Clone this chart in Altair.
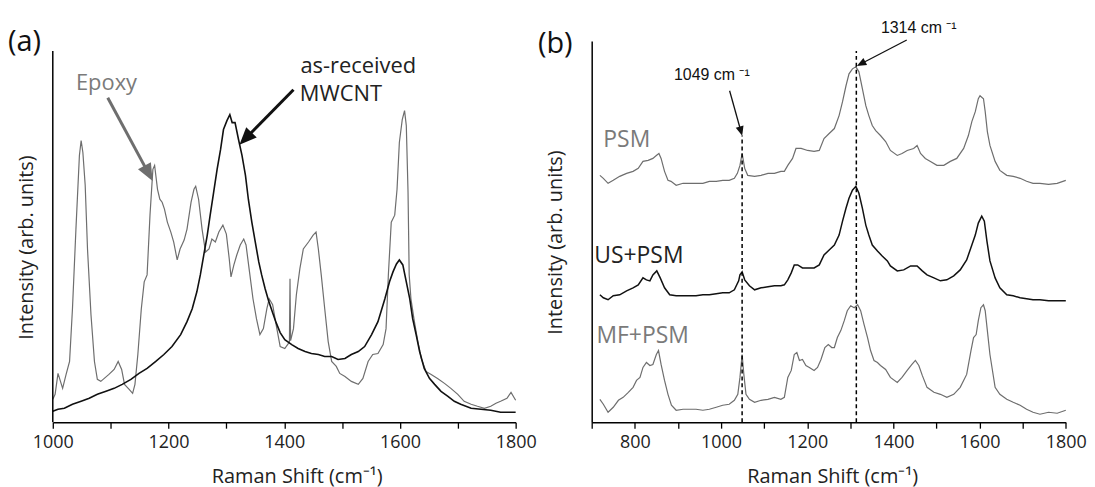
import altair as alt
import pandas as pd

FONT = "Open Sans"
GRAY = "#6e6e6e"
BLACK = "#111111"

# ---------------- Panel (a) data ----------------
epoxy_wn = [1000, 1004, 1009, 1017, 1023, 1029, 1034, 1040, 1046, 1049, 1052, 1056, 1060, 1066,
            1072, 1077, 1083, 1089, 1097, 1106, 1113, 1119, 1124, 1132, 1138, 1142, 1147, 1153,
            1158, 1163, 1168, 1173, 1176, 1181, 1185, 1189, 1193, 1198, 1204, 1209, 1215, 1220,
            1227, 1232, 1239, 1244, 1247, 1252, 1258, 1264, 1270, 1275, 1281, 1287, 1294, 1300,
            1305, 1308, 1313, 1318, 1324, 1330, 1334, 1340, 1346, 1352, 1358, 1364, 1370, 1374,
            1380, 1386, 1393, 1401, 1407, 1409, 1410, 1411, 1416, 1421, 1427, 1433, 1442, 1450,
            1455, 1459, 1464, 1470, 1476, 1482, 1490, 1496, 1505, 1516, 1528, 1536, 1545, 1553,
            1562, 1571, 1576, 1580, 1585, 1591, 1595, 1599, 1604, 1608, 1611, 1614, 1616, 1619,
            1625, 1631, 1637, 1645, 1654, 1665, 1677, 1688, 1700, 1711, 1723, 1734, 1746, 1757,
            1766, 1774, 1785, 1792, 1800]
epoxy_int = [23, 28, 49, 34, 48, 61, 114, 194, 268, 283, 271, 238, 174, 108,
             61, 43, 41, 44, 48, 53, 61, 53, 38, 33, 29, 38, 68, 114,
             141, 148, 208, 254, 258, 234, 224, 221, 214, 201, 191, 181, 163, 174,
             183, 194, 221, 234, 237, 224, 194, 171, 174, 184, 181, 191, 198, 189,
             164, 146, 158, 168, 178, 184, 178, 151, 124, 104, 88, 94, 114, 124,
             118, 98, 76, 74, 79, 81, 144, 82, 94, 128, 154, 174, 181, 188,
             191, 174, 148, 114, 81, 61, 56, 49, 46, 41, 38, 44, 61, 68,
             69, 78, 94, 148, 201, 208, 234, 281, 304, 313, 298, 231, 148, 124,
             101, 81, 64, 51, 48, 44, 39, 34, 28, 21, 18, 16, 14, 16,
             19, 21, 24, 30, 22]

mwcnt_wn = [1000, 1009, 1020, 1034, 1049, 1063, 1077, 1092, 1106, 1120, 1135, 1149, 1163, 1178,
            1192, 1206, 1221, 1232, 1241, 1249, 1255, 1261, 1267, 1272, 1278, 1284, 1290, 1295,
            1301, 1306, 1310, 1315, 1321, 1327, 1333, 1338, 1344, 1350, 1356, 1361, 1367, 1373,
            1380, 1386, 1393, 1401, 1413, 1424, 1436, 1447, 1459, 1470, 1482, 1493, 1505, 1516,
            1528, 1539, 1551, 1562, 1574, 1582, 1588, 1594, 1599, 1605, 1611, 1617, 1622, 1628,
            1634, 1642, 1651, 1660, 1671, 1683, 1694, 1705, 1723, 1740, 1757, 1774, 1800]
mwcnt_int = [11, 13, 14, 18, 21, 24, 28, 31, 34, 38, 43, 49, 54, 61,
             68, 76, 88, 101, 114, 131, 148, 168, 188, 208, 231, 254, 274, 294,
             303, 309, 301, 301, 284, 268, 248, 224, 201, 181, 161, 148, 134, 122,
             110, 100, 90, 83, 78, 74, 71, 69, 68, 66, 66, 63, 64, 68,
             71, 76, 88, 101, 124, 141, 151, 159, 163, 158, 141, 124, 104, 88,
             71, 54, 44, 38, 31, 26, 21, 18, 14, 13, 12, 10, 10]

# ---------------- Panel (b) data ----------------
psm_wn = [719, 727, 738, 750, 765, 781, 796, 808, 819, 831, 842, 850, 856, 861, 869, 877, 884,
          896, 912, 927, 942, 958, 973, 989, 1004, 1019, 1031, 1038, 1044, 1049, 1055, 1062,
          1078, 1093, 1109, 1124, 1139, 1147, 1155, 1166, 1174, 1186, 1201, 1216, 1228, 1239,
          1251, 1263, 1274, 1282, 1290, 1297, 1305, 1313, 1320, 1328, 1336, 1343, 1351, 1359,
          1370, 1382, 1393, 1409, 1420, 1432, 1447, 1455, 1463, 1474, 1486, 1501, 1517, 1532,
          1547, 1563, 1574, 1582, 1590, 1597, 1601, 1609, 1613, 1618, 1624, 1636, 1647, 1663,
          1678, 1694, 1709, 1724, 1740, 1760, 1780, 1800]
psm_int = [248, 245, 240, 243, 247, 250, 252, 255, 262, 263, 265, 268, 270, 265, 252, 243, 242,
           238, 240, 240, 240, 240, 242, 242, 243, 243, 245, 250, 258, 270, 255, 248,
           247, 248, 250, 250, 252, 252, 258, 265, 275, 275, 273, 272, 273, 285,
           290, 295, 308, 322, 338, 350, 355, 357, 352, 335, 318, 308, 298, 293,
           288, 282, 273, 268, 270, 273, 275, 278, 270, 265, 262, 258, 258, 262,
           265, 275, 288, 302, 312, 325, 328, 325, 312, 292, 278, 262, 253, 248,
           247, 245, 242, 240, 240, 239, 240, 243]

us_wn = [719, 727, 738, 750, 765, 781, 796, 808, 819, 827, 835, 842, 851, 859, 869, 881, 896,
         912, 927, 942, 958, 973, 989, 1004, 1019, 1031, 1041, 1044, 1049, 1055, 1066, 1078,
         1093, 1109, 1124, 1139, 1147, 1155, 1163, 1170, 1178, 1189, 1201, 1216, 1228, 1239,
         1251, 1263, 1274, 1282, 1290, 1297, 1305, 1313, 1320, 1328, 1336, 1343, 1351, 1363,
         1374, 1386, 1393, 1409, 1424, 1440, 1455, 1467, 1478, 1494, 1509, 1524, 1540, 1555,
         1570, 1582, 1590, 1597, 1605, 1611, 1617, 1624, 1636, 1647, 1663, 1678, 1694, 1709,
         1724, 1740, 1760, 1780, 1800]
us_int = [128, 125, 123, 127, 128, 132, 135, 138, 145, 143, 142, 148, 152, 145, 135, 128, 127,
          127, 127, 127, 128, 128, 129, 130, 130, 133, 142, 148, 151, 143, 137, 133,
          135, 136, 137, 137, 138, 143, 150, 158, 158, 155, 155, 155, 158, 168,
          173, 178, 188, 202, 215, 225, 233, 237, 230, 215, 198, 188, 178, 172,
          167, 162, 157, 152, 153, 157, 157, 152, 148, 145, 142, 143, 147, 153,
          163, 178, 188, 200, 207, 202, 182, 162, 145, 135, 128, 127, 125, 124,
          123, 123, 122, 122, 122]

mf_wn = [719, 727, 738, 750, 762, 773, 785, 796, 804, 812, 819, 827, 835, 842, 850, 855, 861,
         869, 877, 885, 896, 912, 927, 942, 958, 973, 989, 1004, 1019, 1031, 1039, 1044, 1049,
         1053, 1058, 1066, 1078, 1093, 1109, 1124, 1139, 1147, 1155, 1163, 1170, 1176, 1182,
         1189, 1197, 1205, 1216, 1224, 1232, 1241, 1249, 1257, 1263, 1270, 1278, 1286, 1293,
         1301, 1309, 1317, 1324, 1332, 1340, 1347, 1355, 1363, 1370, 1382, 1393, 1409, 1420,
         1432, 1443, 1451, 1459, 1467, 1478, 1494, 1509, 1524, 1540, 1555, 1570, 1580, 1586,
         1592, 1597, 1603, 1609, 1613, 1618, 1624, 1636, 1647, 1663, 1678, 1694, 1709, 1724,
         1740, 1760, 1780, 1800]
mf_int = [23, 18, 10, 15, 22, 25, 30, 35, 42, 45, 55, 60, 57, 58, 68, 72, 58,
          42, 28, 17, 12, 13, 13, 13, 12, 13, 15, 17, 18, 22, 28, 45, 68,
          48, 28, 23, 20, 22, 23, 25, 23, 25, 45, 52, 68, 70, 62,
          63, 57, 55, 52, 55, 63, 75, 78, 75, 75, 85, 92, 102, 112,
          117, 115, 118, 112, 98, 85, 72, 62, 60, 57, 53, 45, 40, 45,
          52, 58, 62, 57, 47, 35, 30, 28, 25, 28, 35, 48, 72, 85,
          88, 102, 115, 118, 112, 92, 68, 35, 28, 23, 20, 17, 13, 10,
          8, 10, 9, 12]

# ---------------- Annotations ----------------
panel_labels = ["(a)", "(b)"]

a_gray_text = ["Epoxy"]
a_gray_text_wn = [1040]
a_gray_text_int = [334]
a_dark_text = ["as-received", "MWCNT"]
a_dark_text_wn = [1428, 1427]
a_dark_text_int = [351, 323]

# arrows: start (wn, int) -> head centre (wn, int), head angle (deg)
a_arrow_wn = [1095, 1416]
a_arrow_int = [326, 334]
a_arrow_wn2 = [1165.5, 1333]
a_arrow_int2 = [250, 285]
a_arrow_angle = [151.5, 224.3]
a_arrow_color = [GRAY, BLACK]

b_gray_text = ["PSM", "MF+PSM"]
b_gray_text_wn = [727, 711]
b_gray_text_int = [276.6, 79.6]
b_dark_text = ["US+PSM"]
b_dark_text_wn = [706]
b_dark_text_int = [159.6]
b_peak_text = ["1049 cm \u207b\u00b9", "1314 cm \u207b\u00b9"]
b_peak_text_wn = [891, 1371]
b_peak_text_int = [344, 391]

b_peak_wn = [1049, 1314]
b_peak_top = [288, 373]

b_arrow_wn = [1020, 1431]
b_arrow_int = [333, 384]
b_arrow_wn2 = [1046.2, 1325]
b_arrow_int2 = [292.3, 360.1]
b_arrow_angle = [164.4, 242.2]

HEAD = "M0,-1L-0.85,1L0.85,1Z"

# ---------------- Helpers ----------------
X_TITLE = "Raman Shift (cm\u207b\u00b9)"
Y_TITLE = "Intensity (arb. units)"


def x_axis(values, title_x):
    return alt.Axis(
        values=values,
        labelExpr="datum.value % 200 === 0 ? format(datum.value, 'd') : ''",
        title=X_TITLE, titleFont=FONT, titleFontSize=20, titleFontWeight="normal",
        titleColor="#222222", titleX=title_x, titleY=60.5, titleAlign="center",
        titleBaseline="alphabetic",
        labelFont=FONT, labelFontSize=18, labelColor="#222222", labelPadding=5,
        labelFlush=False, labelOverlap=False,
        tickSize=6, tickColor="#000000", tickWidth=1.3,
        domainColor="#000000", domainWidth=1.5, grid=False,
    )


def y_axis(title_x, title_y, domain):
    return alt.Axis(
        title=Y_TITLE, titleFont=FONT, titleFontSize=20, titleFontWeight="normal",
        titleColor="#222222", titleX=title_x, titleY=title_y, titleAngle=-90,
        titleAlign="center", titleBaseline="middle",
        labels=False, ticks=False, domain=domain, domainColor="#000000",
        domainWidth=1.5, grid=False,
    )


def line(wn, inten, color, width, xs, ys):
    df = pd.DataFrame({"wn": wn, "I": inten})
    return alt.Chart(df).mark_line(color=color, strokeWidth=width).encode(
        x=xs, y=ys
    )


def texts(labels, wn, inten, color, size, font=FONT):
    df = pd.DataFrame({"label": labels, "wn": wn, "I": inten})
    return alt.Chart(df).mark_text(
        align="left", baseline="alphabetic", font=font, fontSize=size, color=color
    ).encode(x="wn:Q", y="I:Q", text="label:N")


def arrows(wn, inten, wn2, inten2, angles, colors, width, head_size):
    df = pd.DataFrame({"wn": wn, "I": inten, "wn2": wn2, "I2": inten2,
                       "ang": angles, "col": colors})
    shafts = alt.Chart(df).mark_rule(strokeWidth=width).encode(
        x="wn:Q", y="I:Q", x2="wn2:Q", y2="I2:Q",
        color=alt.Color("col:N", scale=None),
    )
    heads = alt.Chart(df).mark_point(shape=HEAD, filled=True, opacity=1,
                                     size=head_size, strokeWidth=0).encode(
        x="wn2:Q", y="I2:Q",
        angle=alt.Angle("ang:Q", scale=None),
        color=alt.Color("col:N", scale=None),
    )
    return shafts + heads


def panel_label(label, dx, dy):
    df = pd.DataFrame({"label": [label]})
    return alt.Chart(df).mark_text(
        align="left", baseline="alphabetic", font=FONT, fontSize=29, color="#111111"
    ).encode(x=alt.value(dx), y=alt.value(dy), text="label:N")


# ---------------- Panel (a) ----------------
xa = alt.X("wn:Q", scale=alt.Scale(domain=[1000, 1800], nice=False, zero=False),
           axis=x_axis(list(range(1000, 1801, 100)), 245))
ya = alt.Y("I:Q", scale=alt.Scale(domain=[0, 383], nice=False, zero=False),
           axis=y_axis(-26.5, 207, False))

a_yline = alt.Chart(pd.DataFrame({"wn": [1000], "I": [0], "I2": [373]})).mark_rule(
    color="#000000", strokeWidth=1.5).encode(x="wn:Q", y="I:Q", y2="I2:Q")

panel_a = alt.layer(
    line(epoxy_wn, epoxy_int, GRAY, 1.2, xa, ya),
    line(mwcnt_wn, mwcnt_int, BLACK, 1.6, "wn:Q", "I:Q"),
    a_yline,
    texts(a_gray_text, a_gray_text_wn, a_gray_text_int, "#7a7a7a", 22),
    texts(a_dark_text, a_dark_text_wn, a_dark_text_int, "#222222", 22),
    arrows(a_arrow_wn, a_arrow_int, a_arrow_wn2, a_arrow_int2, a_arrow_angle,
           a_arrow_color, 3, 300),
    panel_label(panel_labels[0], -45, 10),
).properties(width=465, height=383)

# ---------------- Panel (b) ----------------
xb = alt.X("wn:Q", scale=alt.Scale(domain=[700, 1800], nice=False, zero=False),
           axis=x_axis(list(range(700, 1801, 100)), 241.6))
yb = alt.Y("I:Q", scale=alt.Scale(domain=[0, 383], nice=False, zero=False),
           axis=y_axis(-36.4, 202, True))

dash_df = pd.DataFrame({"wn": b_peak_wn, "I": [0, 0], "I2": b_peak_top})
dashes = alt.Chart(dash_df).mark_rule(color="#000000", strokeWidth=1.5,
                                      strokeDash=[4, 3]).encode(
    x="wn:Q", y="I:Q", y2="I2:Q")

panel_b = alt.layer(
    line(psm_wn, psm_int, GRAY, 1.2, xb, yb),
    line(us_wn, us_int, BLACK, 1.5, "wn:Q", "I:Q"),
    line(mf_wn, mf_int, GRAY, 1.2, "wn:Q", "I:Q"),
    dashes,
    texts(b_gray_text, b_gray_text_wn, b_gray_text_int, "#7a7a7a", 23),
    texts(b_dark_text, b_dark_text_wn, b_dark_text_int, "#222222", 23),
    texts(b_peak_text, b_peak_text_wn, b_peak_text_int, "#111111", 16,
          font="Liberation Sans"),
    arrows(b_arrow_wn, b_arrow_int, b_arrow_wn2, b_arrow_int2, b_arrow_angle,
           [BLACK, BLACK], 1.3, 90),
    panel_label(panel_labels[1], -54, 12),
).properties(width=476.3, height=383)

chart = alt.hconcat(panel_a, panel_b, spacing=76.4, bounds="flush").properties(
    padding={"left": 0, "top": 10, "right": 0, "bottom": 0}
).configure_view(stroke=None)

chart.save("out.html", embed_options={"renderer": "svg", "actions": False})
